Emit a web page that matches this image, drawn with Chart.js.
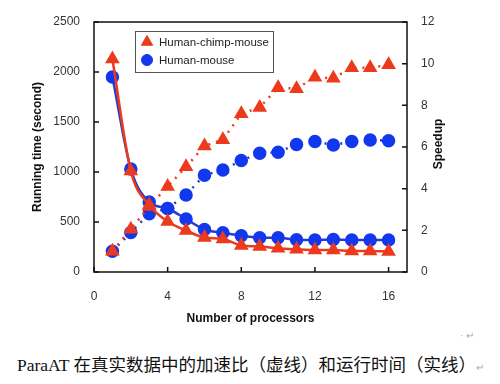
<!DOCTYPE html>
<html>
<head>
<meta charset="utf-8">
<script src="https://cdn.jsdelivr.net/npm/chart.js@4/dist/chart.umd.min.js"></script>
<style>
  html, body { margin: 0; padding: 0; background: #fff; }
  #wrap { position: relative; width: 500px; height: 384px; }
  #box { position: absolute; left: 0; top: 0; width: 500px; height: 330px; }
  #caption {
    position: absolute; left: 17px; top: 351px; white-space: nowrap;
    font-family: "Liberation Serif", "Noto Sans CJK SC", serif;
    font-size: 17.5px; color: #111;
  }
  .mark { color: #aaa; font-size: 10px; }
  #mark2 { position: absolute; left: 460px; top: 330px; }
</style>
</head>
<body>
<div id="wrap">
  <div id="box"><canvas id="chart"></canvas></div>
  <div id="mark2" class="mark">· ↵</div>
  <div id="caption">ParaAT 在真实数据中的加速比（虚线）和运行时间（实线）<span class="mark">↵</span></div>
</div>
<script>
const processors = [1, 2, 3, 4, 5, 6, 7, 8, 9, 10, 11, 12, 13, 14, 15, 16];
// running time (seconds), solid lines
const hcmTime = [2130, 1010, 670, 505, 415, 345, 330, 265, 255, 237, 227, 220, 220, 210, 210, 205];
const hmTime = [1950, 1030, 700, 635, 530, 425, 393, 363, 343, 343, 322, 320, 325, 320, 320, 320];
// speedup, dotted lines
const hcmSpeedup = [1.0, 2.05, 3.15, 4.1, 5.05, 6.05, 6.35, 7.6, 7.9, 8.85, 8.8, 9.35, 9.3, 9.8, 9.8, 9.95];
const hmSpeedup = [1.0, 1.9, 2.8, 3.05, 3.7, 4.65, 4.9, 5.35, 5.7, 5.75, 6.12, 6.26, 6.1, 6.26, 6.34, 6.3];

const xTicks = [0, 4, 8, 12, 16];
const leftTicks = [0, 500, 1000, 1500, 2000, 2500];
const rightTicks = [0, 2, 4, 6, 8, 10, 12];

const red = '#ec3a1c';
const blue = '#1238ee';
const blueLine = '#2a3cc4';

function pts(ys) {
  return processors.map((x, i) => ({ x: x, y: ys[i] }));
}

const frame = {
  id: 'frame',
  afterDatasetsDraw(chart) {
    const { ctx, chartArea: ca, scales } = chart;
    ctx.save();
    ctx.strokeStyle = '#111';
    ctx.lineWidth = 1.5;
    ctx.strokeRect(ca.left, ca.top, ca.width, ca.height);
    // inward ticks
    ctx.beginPath();
    xTicks.forEach(v => {
      const px = scales.x.getPixelForValue(v);
      ctx.moveTo(px, ca.bottom); ctx.lineTo(px, ca.bottom - 5);
    });
    leftTicks.forEach(v => {
      const py = scales.y.getPixelForValue(v);
      ctx.moveTo(ca.left, py); ctx.lineTo(ca.left + 5, py);
    });
    rightTicks.forEach(v => {
      const py = scales.y2.getPixelForValue(v);
      ctx.moveTo(ca.right, py); ctx.lineTo(ca.right - 5, py);
    });
    ctx.stroke();

    // right axis title, reads bottom to top like the left one
    ctx.save();
    ctx.translate(439, 144);
    ctx.rotate(-Math.PI / 2);
    ctx.fillStyle = '#111';
    ctx.font = 'bold 12px "Liberation Sans", Arial, sans-serif';
    ctx.textAlign = 'center';
    ctx.textBaseline = 'middle';
    ctx.fillText('Speedup', 0, 0);
    ctx.restore();

    // legend box
    const lx = 135, ly = 31, lw = 138, lh = 41;
    ctx.fillStyle = '#fff';
    ctx.fillRect(lx, ly, lw, lh);
    ctx.strokeStyle = '#555';
    ctx.lineWidth = 1;
    ctx.strokeRect(lx + 0.5, ly + 0.5, lw, lh);
    ctx.fillStyle = red; ctx.strokeStyle = red;
    Chart.helpers.drawPoint(ctx, { pointStyle: 'triangle', radius: 6.5, borderWidth: 1 }, 147, 42);
    ctx.fillStyle = blue; ctx.strokeStyle = blue;
    Chart.helpers.drawPoint(ctx, { pointStyle: 'circle', radius: 5.5, borderWidth: 1 }, 147, 60);
    ctx.fillStyle = '#222';
    ctx.font = '11.5px "Liberation Sans", Arial, sans-serif';
    ctx.textBaseline = 'middle';
    ctx.fillText('Human-chimp-mouse', 159, 43);
    ctx.fillText('Human-mouse', 159, 61);
    ctx.restore();
  }
};

const tickFont = { family: '"Liberation Sans", Arial, sans-serif', size: 12 };
const titleFont = { family: '"Liberation Sans", Arial, sans-serif', size: 12, weight: 'bold' };

new Chart('chart', {
  type: 'line',
  data: {
    datasets: [
      {
        label: 'Human-chimp-mouse time', data: pts(hcmTime), yAxisID: 'y',
        borderColor: red, backgroundColor: red, borderWidth: 2.5,
        pointStyle: 'triangle', pointRadius: 6, cubicInterpolationMode: 'monotone'
      },
      {
        label: 'Human-mouse time', data: pts(hmTime), yAxisID: 'y',
        borderColor: blueLine, backgroundColor: blue, pointBorderColor: blue, borderWidth: 2.5,
        pointStyle: 'circle', pointRadius: 5.5, cubicInterpolationMode: 'monotone'
      },
      {
        label: 'Human-chimp-mouse', data: pts(hcmSpeedup), yAxisID: 'y2',
        borderColor: red, backgroundColor: red, borderWidth: 2.5, borderDash: [2, 6],
        pointStyle: 'triangle', pointRadius: 6
      },
      {
        label: 'Human-mouse', data: pts(hmSpeedup), yAxisID: 'y2',
        borderColor: blueLine, backgroundColor: blue, pointBorderColor: blue, borderWidth: 2.5, borderDash: [2, 6],
        pointStyle: 'circle', pointRadius: 5.5
      }
    ]
  },
  options: {
    responsive: true,
    maintainAspectRatio: false,
    animation: false,
    layout: { padding: { top: 22, left: 0, right: 0, bottom: 0 } },
    plugins: { legend: { display: false }, tooltip: { enabled: false } },
    scales: {
      x: {
        type: 'linear', min: 0, max: 17,
        afterBuildTicks: s => { s.ticks = xTicks.map(v => ({ value: v })); },
        afterFit: s => { s.height = 58; },
        grid: { display: false, drawTicks: false },
        border: { display: false },
        ticks: { color: '#333', font: tickFont, padding: 17 },
        title: { display: true, text: 'Number of processors', color: '#111', font: titleFont, padding: { top: 3 } }
      },
      y: {
        position: 'left', min: 0, max: 2500,
        afterBuildTicks: s => { s.ticks = leftTicks.map(v => ({ value: v })); },
        afterFit: s => { s.width = 94; },
        grid: { display: false, drawTicks: false },
        border: { display: false },
        ticks: { color: '#333', font: tickFont, padding: 14, callback: v => String(v) },
        title: { display: true, text: 'Running time (second)', color: '#111', font: titleFont, padding: { top: 30 } }
      },
      y2: {
        position: 'right', min: 0, max: 12,
        afterBuildTicks: s => { s.ticks = rightTicks.map(v => ({ value: v })); },
        afterFit: s => { s.width = 93; },
        grid: { display: false, drawTicks: false },
        border: { display: false },
        ticks: { color: '#333', font: tickFont, padding: 14 }
      }
    }
  },
  plugins: [frame]
});
</script>
</body>
</html>
